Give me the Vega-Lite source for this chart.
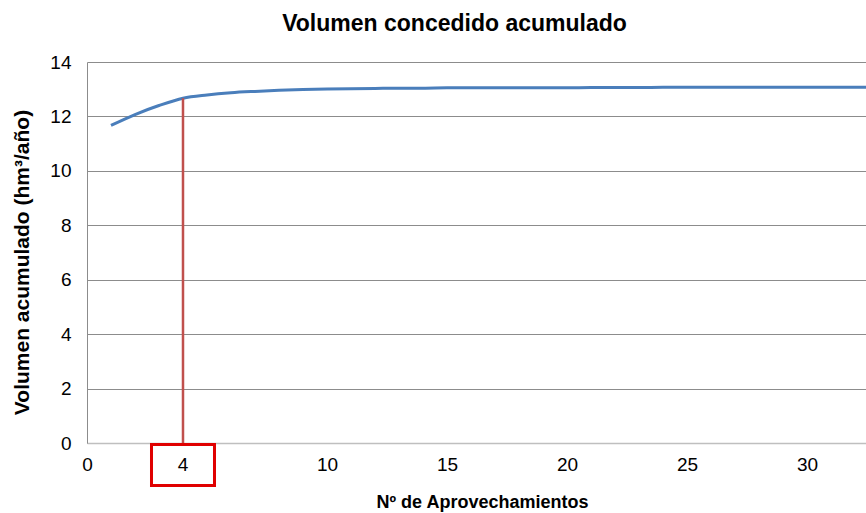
{
  "$schema": "https://vega.github.io/schema/vega-lite/v6.json",
  "width": 779,
  "height": 381,
  "autosize": {"type": "none"},
  "padding": {"left": 87, "top": 62, "right": 0, "bottom": 70},
  "background": "white",
  "config": {
    "font": "Liberation Sans",
    "view": {"stroke": null},
    "axis": {"labelFont": "Liberation Sans", "titleFont": "Liberation Sans", "labelColor": "#000000", "titleColor": "#000000"}
  },
  "title": {
    "text": "Volumen concedido acumulado",
    "fontSize": 23,
    "fontWeight": "bold",
    "font": "Liberation Sans",
    "color": "#000000",
    "anchor": "middle",
    "dx": -22,
    "offset": 17
  },
  "datasets": {
    "curve": [
      {"n": 1, "vol": 11.67},
      {"n": 2, "vol": 12.07},
      {"n": 3, "vol": 12.4},
      {"n": 4, "vol": 12.67},
      {"n": 5, "vol": 12.79},
      {"n": 6, "vol": 12.87},
      {"n": 7, "vol": 12.92},
      {"n": 8, "vol": 12.96},
      {"n": 9, "vol": 12.99},
      {"n": 10, "vol": 13.01},
      {"n": 11, "vol": 13.02},
      {"n": 12, "vol": 13.03},
      {"n": 13, "vol": 13.04},
      {"n": 14, "vol": 13.04},
      {"n": 15, "vol": 13.05},
      {"n": 16, "vol": 13.05},
      {"n": 17, "vol": 13.05},
      {"n": 18, "vol": 13.05},
      {"n": 19, "vol": 13.05},
      {"n": 20, "vol": 13.05},
      {"n": 21, "vol": 13.06},
      {"n": 22, "vol": 13.06},
      {"n": 23, "vol": 13.06},
      {"n": 24, "vol": 13.07},
      {"n": 25, "vol": 13.07},
      {"n": 26, "vol": 13.07},
      {"n": 27, "vol": 13.07},
      {"n": 28, "vol": 13.07},
      {"n": 29, "vol": 13.07},
      {"n": 30, "vol": 13.07},
      {"n": 31, "vol": 13.07},
      {"n": 32, "vol": 13.07},
      {"n": 33, "vol": 13.07},
      {"n": 34, "vol": 13.07}
    ],
    "marker": [
      {"n": 4, "vol": 12.67, "base": 0, "label": "4"}
    ]
  },
  "layer": [
    {
      "data": {"name": "curve"},
      "mark": {"type": "line", "color": "#4A7EBB", "strokeWidth": 3, "interpolate": "monotone", "clip": true},
      "encoding": {
        "x": {
          "field": "n",
          "type": "quantitative",
          "scale": {"domain": [0, 32.46], "nice": false, "zero": true},
          "axis": {
            "title": "Nº de Aprovechamientos",
            "values": [0, 10, 15, 20, 25, 30],
            "grid": false,
            "ticks": false,
            "domainColor": "#BFBFBF",
            "domainWidth": 1.5,
            "labelFontSize": 19,
            "labelPadding": 12,
            "titleFontSize": 18,
            "titleFontWeight": "bold",
            "titlePadding": 19,
            "titleAnchor": "middle",
            "titleX": 395,
            "labelFlush": false
          }
        },
        "y": {
          "field": "vol",
          "type": "quantitative",
          "scale": {"domain": [0, 14], "nice": false},
          "axis": {
            "title": "Volumen acumulado (hm³/año)",
            "values": [0, 2, 4, 6, 8, 10, 12, 14],
            "grid": true,
            "gridColor": "#8C8C8C",
            "gridWidth": 1,
            "ticks": false,
            "domainColor": "#8C8C8C",
            "labelFontSize": 19,
            "labelPadding": 16,
            "titleFontSize": 21,
            "titleFontWeight": "bold",
            "titlePadding": 17,
            "titleY": 200
          }
        }
      }
    },
    {
      "data": {"name": "marker"},
      "mark": {"type": "rule", "color": "#C0504D", "strokeWidth": 2.5},
      "encoding": {
        "x": {"field": "n", "type": "quantitative"},
        "y": {"field": "base", "type": "quantitative"},
        "y2": {"field": "vol"}
      }
    },
    {
      "data": {"name": "marker"},
      "mark": {
        "type": "point",
        "shape": "M-1,-0.65H1V0.65H-1Z",
        "filled": false,
        "stroke": "#E00000",
        "strokeWidth": 3,
        "size": 3969,
        "yOffset": 22,
        "opacity": 1
      },
      "encoding": {
        "x": {"field": "n", "type": "quantitative"},
        "y": {"field": "base", "type": "quantitative"}
      }
    },
    {
      "data": {"name": "marker"},
      "mark": {"type": "text", "fontSize": 19, "color": "#000000", "dy": 22, "baseline": "middle", "align": "center"},
      "encoding": {
        "x": {"field": "n", "type": "quantitative"},
        "y": {"field": "base", "type": "quantitative"},
        "text": {"field": "label"}
      }
    }
  ]
}
